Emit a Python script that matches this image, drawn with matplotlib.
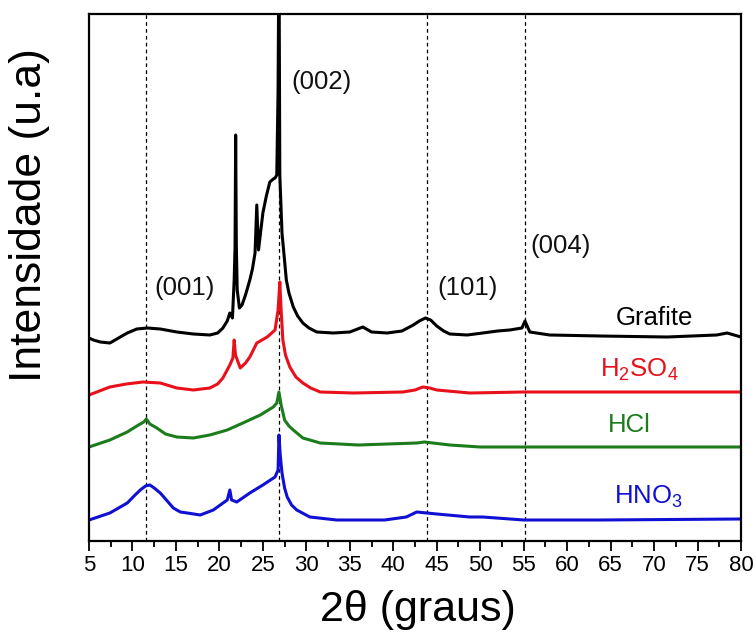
import matplotlib
matplotlib.use("Agg")
import matplotlib.pyplot as plt

plt.rcParams['font.family'] = ['Liberation Sans', 'DejaVu Sans']
plt.rcParams['mathtext.default'] = 'regular'

# ---- data (intensity in arbitrary units, offset stacked) ----
grafite_x = [5.0, 5.5, 6.3, 7.4, 8.4, 9.4, 10.5, 11.7, 13.2, 15.1, 17.0, 18.9, 19.8, 20.4,
             20.9, 21.2, 21.5, 21.7, 21.8, 21.87, 21.95, 22.05, 22.3, 22.6, 23.0, 23.5, 23.8,
             24.1, 24.3, 24.5, 25.0, 25.4, 25.8, 26.2, 26.4, 26.6, 26.75, 26.85, 26.95, 27.2,
             27.5, 27.7, 28.0, 28.5, 29.0, 29.6, 30.3, 31.2, 33.1, 35.0, 36.5, 37.5, 39.3,
             41.0, 42.3, 43.0, 43.7, 44.3, 45.0, 45.8, 46.5, 48.5, 50.3, 52.0, 53.4, 54.8,
             55.15, 55.7, 58.0, 63.8, 71.5, 77.2, 78.4, 80.0]
grafite_y = [203, 201, 199, 198, 203, 208, 212, 213, 212, 209, 207, 206, 208, 213,
             220, 228, 223, 261, 294, 406, 294, 251, 233, 236, 246, 261, 272,
             288, 336, 291, 328, 345, 359, 362, 363, 366, 451, 600, 366, 308,
             280, 261, 248, 234, 225, 218, 213, 209, 208, 209, 214, 209, 208,
             210, 216, 220, 223, 221, 215, 210, 207, 206, 208, 210, 211, 213,
             220, 209, 206, 205, 204, 206, 208, 204]

h2so4_x = [5.0, 7.4, 9.3, 11.2, 13.2, 15.1, 17.0, 18.9, 19.8, 20.4, 21.2, 21.55, 21.7, 21.85,
           22.4, 23.0, 23.5, 24.3, 25.5, 26.4, 26.75, 26.95, 27.1, 27.3, 27.6, 28.1, 28.8,
           29.6, 30.5, 31.6, 35.4, 41.1, 42.5, 43.4, 44.2, 45.0, 48.8, 55.0, 65.0, 80.0]
h2so4_y = [146, 154, 157, 159, 158, 153, 151, 153, 157, 163, 176, 183, 201, 186,
           173, 178, 184, 198, 204, 211, 231, 259, 231, 201, 186, 174, 164,
           158, 153, 149, 148, 149, 151, 154, 153, 151, 148, 149, 149, 149]

hcl_x = [5.0, 7.4, 9.4, 10.5, 11.3, 11.6, 12.0, 12.8, 13.8, 15.1, 17.0, 18.9, 20.9, 22.7,
         24.7, 26.2, 26.6, 26.85, 27.1, 27.5, 28.0, 28.5, 29.6, 31.6, 36.0, 42.7, 43.6,
         46.5, 50.0, 60.0, 80.0]
hcl_y = [94, 101, 109, 115, 119, 122, 117, 113, 107, 104, 103, 106, 111, 118,
         126, 134, 138, 149, 136, 121, 115, 111, 103, 98, 96, 98, 99,
         96, 94, 94, 94]

hno3_x = [5.0, 7.4, 9.4, 10.3, 10.9, 11.5, 12.0, 12.5, 13.2, 14.0, 14.7, 15.5, 16.3, 17.8,
          19.3, 20.9, 21.2, 21.4, 22.0, 23.5, 25.0, 26.4, 26.75, 26.85, 27.0, 27.2, 27.5,
          27.8, 28.3, 28.9, 30.4, 33.5, 39.0, 41.5, 42.7, 45.0, 48.8, 50.3, 55.0, 63.8, 80.0]
hno3_y = [21, 28, 38, 46, 51, 55, 56, 53, 48, 40, 33, 29, 28, 26,
          31, 41, 51, 41, 39, 48, 56, 64, 71, 106, 86, 68, 53,
          44, 36, 31, 24, 21, 21, 24, 29, 27, 24, 24, 21, 21, 22]

series_labels = ['Grafite', 'H$_2$SO$_4$', 'HCl', 'HNO$_3$']
series_colors = ['black', '#e8101a', '#1c7c1c', '#1010d4']

peak_positions = [11.55, 26.85, 43.85, 55.1]
peak_labels = ['(001)', '(002)', '(101)', '(004)']
peak_label_pos = [(16.0, 253), (31.7, 459), (48.5, 253), (59.2, 295)]
series_label_pos = [(70.0, 223), (68.3, 171), (67.2, 116), (69.3, 44)]

xticks = list(range(5, 81, 5))

# ---- figure ----
fig = plt.figure(figsize=(7.56, 6.44), dpi=100)
ax = fig.add_axes([89/756, 1 - 541/644, 652/756, 527/644])

for xp in peak_positions:
    ax.axvline(xp, color='black', lw=0.9, ls=(0, (3, 2.5)), zorder=1)

curves = [(grafite_x, grafite_y), (h2so4_x, h2so4_y), (hcl_x, hcl_y), (hno3_x, hno3_y)]
for (xs, ys), c in zip(curves, series_colors):
    ax.plot(xs, ys, color=c, lw=2.2, zorder=2, solid_joinstyle='round')

for (tx, ty), lab in zip(peak_label_pos, peak_labels):
    ax.text(tx, ty, lab, fontsize=18.5, ha='center', va='center', color='#111111')

for (tx, ty), lab, c in zip(series_label_pos, series_labels, series_colors):
    ax.text(tx, ty, lab, fontsize=18.5, ha='center', va='center', color=c)

ax.set_xlim(5, 80)
ax.set_ylim(0, 527)
ax.set_xticks(xticks)
ax.set_xticks([x + 2.5 for x in xticks[:-1]], minor=True)
ax.set_yticks([])
ax.tick_params(axis='x', which='major', direction='out', length=7, width=1.3,
               labelsize=16, pad=3)
ax.tick_params(axis='x', which='minor', direction='out', length=4, width=1.3)
for sp in ax.spines.values():
    sp.set_linewidth(1.6)

ax.set_xlabel('2θ (graus)', fontsize=31)
ax.xaxis.set_label_coords(0.505, -0.093)
ax.set_ylabel('Intensidade (u.a)', fontsize=32)
ax.yaxis.set_label_coords(-0.060, 0.619)

fig.savefig('out.png', dpi=100)
